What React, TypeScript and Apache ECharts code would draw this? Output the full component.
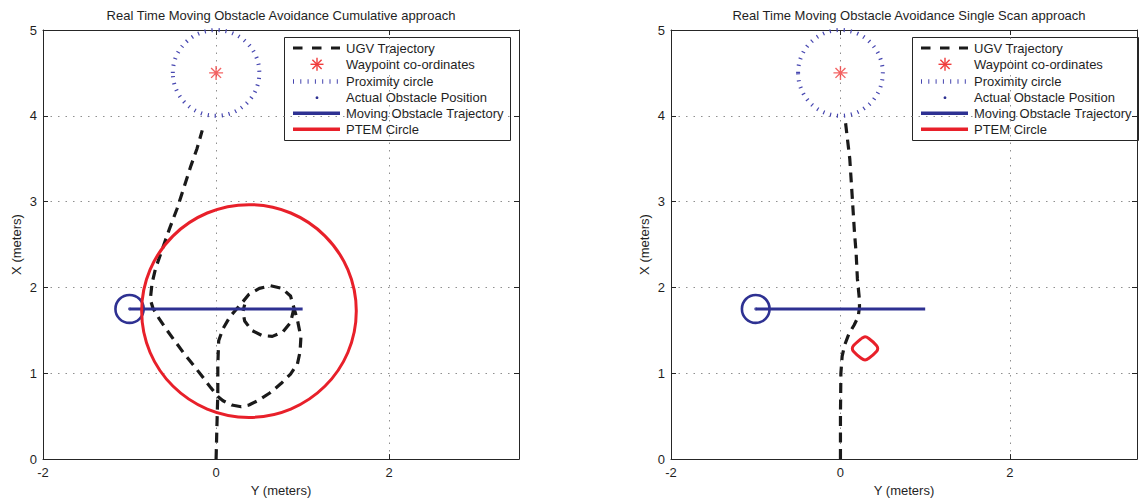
import React, { useEffect, useRef } from "react";
import * as echarts from "echarts";

// ---------- data (Y metres, X metres) ----------
const X_MIN = -2;
const X_MAX = 3.5;
const X_INTERVAL = 2;
const Y_MIN = 0;
const Y_MAX = 5;
const Y_INTERVAL = 1;

const TITLES = [
  "Real Time Moving Obstacle Avoidance Cumulative approach",
  "Real Time Moving Obstacle Avoidance Single Scan approach",
];
const LEGEND_NAMES = [
  "UGV Trajectory",
  "Waypoint co-ordinates",
  "Proximity circle",
  "Actual Obstacle Position",
  "Moving Obstacle Trajectory",
  "PTEM Circle",
];

const WAYPOINT = [0, 4.5];
const PROXIMITY_CIRCLE = [0, 4.5, 0.5]; // cx, cy, r
const OBSTACLE_POSITION = [-1, 1.75];
const OBSTACLE_CIRCLE = [-1, 1.75, 0.163];
const OBSTACLE_TRAJECTORY = [
  [-1, 1.75],
  [1, 1.75],
];

// Cumulative approach
const UGV_CUMULATIVE_MAIN = [
  [0.0, 0.0], [0.01, 0.4], [0.02, 0.77], [0.02, 1.1], [0.03, 1.38],
  [0.08, 1.52], [0.16, 1.66], [0.29, 1.81],
  [0.38, 1.92], [0.5, 1.99], [0.63, 2.02], [0.76, 1.99], [0.86, 1.9], [0.9, 1.76],
  [0.94, 1.62], [0.98, 1.42], [0.97, 1.25], [0.94, 1.11], [0.86, 0.99],
  [0.75, 0.88], [0.62, 0.77], [0.48, 0.68], [0.38, 0.63], [0.29, 0.61],
  [0.18, 0.63], [0.08, 0.68], [0.02, 0.73],
  [-0.06, 0.83], [-0.15, 0.95], [-0.25, 1.08], [-0.37, 1.23], [-0.48, 1.38],
  [-0.58, 1.52], [-0.66, 1.64], [-0.73, 1.76], [-0.76, 1.86], [-0.74, 2.05],
  [-0.7, 2.22], [-0.62, 2.45], [-0.54, 2.68], [-0.45, 2.92], [-0.37, 3.17],
  [-0.29, 3.42], [-0.22, 3.62], [-0.16, 3.83],
];
const UGV_CUMULATIVE_LOOP = [
  [0.9, 1.76], [0.86, 1.59], [0.77, 1.48], [0.65, 1.43], [0.53, 1.44],
  [0.41, 1.5], [0.33, 1.61], [0.31, 1.72], [0.33, 1.8],
];
const PTEM_CUMULATIVE = [0.38, 1.725, 1.24]; // cx, cy, r

// Single scan approach
const UGV_SINGLE = [
  [0.0, 0.0], [0.0, 0.5], [0.005, 1.0], [0.02, 1.2], [0.05, 1.33],
  [0.1, 1.46], [0.16, 1.56], [0.21, 1.66], [0.225, 1.78], [0.22, 1.9],
  [0.2, 2.1], [0.185, 2.4], [0.165, 2.65], [0.14, 3.04], [0.11, 3.5],
  [0.08, 3.75], [0.06, 3.92],
];
const PTEM_SINGLE = [
  [0.245, 1.405], [0.29, 1.425], [0.335, 1.405],
  [0.425, 1.325], [0.44, 1.29], [0.425, 1.255],
  [0.335, 1.175], [0.29, 1.155], [0.245, 1.175],
  [0.155, 1.255], [0.14, 1.29], [0.155, 1.325],
  [0.245, 1.405],
];

// ---------- styles ----------
const FONT = '"Liberation Sans", Arial, Helvetica, sans-serif';
const TEXT = "#1f1f1f";
const AXIS = "#262626";
const BLACK = "#1a1a1a";
const BLUE = "#2e3192";
const PROX_BLUE = "#4646b0";
const RED = "#e8202a";
const STAR_RED = "#f03c3c";
const UGV_DASH = [10, 6.5];
const PROX_DASH = [1.2, 5.8];

const GRID_TOP = 30;
const GRID_W = 476;
const GRID_H = 433;
const GRID_LEFTS = [43, 671];
const LEGEND_LEFTS = [284, 912];

const ASTERISK =
  "path://M0,-1L0,1M-1,0L1,0M-0.71,-0.71L0.71,0.71M-0.71,0.71L0.71,-0.71";

function circleRenderer(color: string, width: number, dash?: number[]) {
  return (params: any, api: any) => {
    const c = api.coord([api.value(0), api.value(1)]);
    const s = api.size([api.value(2), api.value(2)]);
    return {
      type: "ellipse",
      shape: { cx: c[0], cy: c[1], rx: s[0], ry: s[1] },
      style: {
        fill: "none",
        stroke: color,
        lineWidth: width,
        lineDash: dash,
      },
    };
  };
}

function axesFor(g: number) {
  const common = {
    gridIndex: g,
    type: "value" as const,
    axisLine: { show: true, onZero: false, lineStyle: { color: AXIS, width: 1 } },
    axisTick: { show: true, inside: true, length: 5, lineStyle: { color: AXIS } },
  };
  const xBottom = {
    ...common,
    position: "bottom",
    min: X_MIN,
    max: X_MAX,
    interval: X_INTERVAL,
    name: "Y (meters)",
    nameLocation: "middle",
    nameGap: 23,
    nameTextStyle: { fontSize: 13, color: TEXT, fontFamily: FONT },
    axisLabel: {
      margin: 7,
      fontSize: 13,
      color: TEXT,
      fontFamily: FONT,
      formatter: (v: number) => (v === X_MAX ? "" : String(v)),
    },
    splitLine: { show: true, lineStyle: { color: "#8f8f8f", width: 1, type: [1.5, 6] } },
  };
  const xTop = {
    ...common,
    position: "top",
    min: X_MIN,
    max: X_MAX,
    interval: X_INTERVAL,
    axisLabel: { show: false },
    splitLine: { show: false },
  };
  const yLeft = {
    ...common,
    position: "left",
    min: Y_MIN,
    max: Y_MAX,
    interval: Y_INTERVAL,
    name: "X (meters)",
    nameLocation: "middle",
    nameGap: 20,
    nameTextStyle: { fontSize: 13, color: TEXT, fontFamily: FONT },
    axisLabel: { margin: 6, fontSize: 13, color: TEXT, fontFamily: FONT },
    splitLine: { show: true, lineStyle: { color: "#8f8f8f", width: 1, type: [1.5, 6] } },
  };
  const yRight = {
    ...common,
    position: "right",
    min: Y_MIN,
    max: Y_MAX,
    interval: Y_INTERVAL,
    axisLabel: { show: false },
    splitLine: { show: false },
  };
  return { x: [xBottom, xTop], y: [yLeft, yRight] };
}

function seriesFor(g: number, ugv: any[], ptem: "circle" | "poly") {
  const xi = g * 2;
  const yi = g * 2;
  const base = { xAxisIndex: xi, yAxisIndex: yi };
  const list: any[] = [
    {
      ...base,
      type: "line",
      name: LEGEND_NAMES[0],
      data: ugv,
      showSymbol: false,
      symbol: "none",
      connectNulls: false,
      lineStyle: { color: BLACK, width: 3.2, type: UGV_DASH, cap: "butt", join: "round" },
      z: 2,
    },
    {
      ...base,
      type: "scatter",
      name: LEGEND_NAMES[1],
      data: [WAYPOINT],
      symbol: ASTERISK,
      symbolSize: 14,
      itemStyle: { color: "transparent", borderColor: STAR_RED, borderWidth: 1.4 },
      z: 3,
    },
    {
      ...base,
      type: "custom",
      name: LEGEND_NAMES[2],
      data: [PROXIMITY_CIRCLE],
      encode: { x: 0, y: 1 },
      renderItem: circleRenderer(PROX_BLUE, 4, PROX_DASH),
      z: 3,
    },
    {
      ...base,
      type: "scatter",
      name: LEGEND_NAMES[3],
      data: [OBSTACLE_POSITION],
      symbol: "circle",
      symbolSize: 3,
      itemStyle: { color: BLUE },
      z: 3,
    },
    {
      ...base,
      type: "line",
      name: LEGEND_NAMES[4],
      data: OBSTACLE_TRAJECTORY,
      showSymbol: false,
      symbol: "none",
      lineStyle: { color: BLUE, width: 3 },
      z: 4,
    },
    {
      ...base,
      type: "custom",
      name: LEGEND_NAMES[4] + " marker",
      data: [OBSTACLE_CIRCLE],
      encode: { x: 0, y: 1 },
      renderItem: circleRenderer(BLUE, 2.6),
      z: 4,
    },
  ];
  if (ptem === "circle") {
    list.push({
      ...base,
      type: "custom",
      name: LEGEND_NAMES[5],
      data: [PTEM_CUMULATIVE],
      encode: { x: 0, y: 1 },
      renderItem: circleRenderer(RED, 3),
      z: 5,
    });
  } else {
    list.push({
      ...base,
      type: "line",
      name: LEGEND_NAMES[5],
      data: PTEM_SINGLE,
      showSymbol: false,
      symbol: "none",
      smooth: 0.2,
      lineStyle: { color: RED, width: 3, join: "round" },
      z: 5,
    });
  }
  return list;
}

function legendGraphic(left: number) {
  const rowY = [11, 27.3, 44.5, 60.7, 76.3, 92.3];
  const sx0 = 9;
  const sx1 = 56;
  const tx = 62;
  const cx = 33;
  const children: any[] = [
    {
      type: "rect",
      shape: { x: 0.5, y: 0.5, width: 226, height: 103 },
      style: { fill: "#ffffff", stroke: AXIS, lineWidth: 1 },
    },
    {
      type: "line",
      shape: { x1: sx0, y1: rowY[0], x2: sx1, y2: rowY[0] },
      style: { stroke: BLACK, lineWidth: 3, lineDash: [9.5, 9.5] },
    },
  ];
  const a = 6.5;
  const d = a * 0.71;
  [
    [0, -a, 0, a],
    [-a, 0, a, 0],
    [-d, -d, d, d],
    [-d, d, d, -d],
  ].forEach(([x1, y1, x2, y2]) =>
    children.push({
      type: "line",
      shape: { x1: cx + x1, y1: rowY[1] + y1, x2: cx + x2, y2: rowY[1] + y2 },
      style: { stroke: STAR_RED, lineWidth: 1.4 },
    })
  );
  children.push({
    type: "line",
    shape: { x1: sx0, y1: rowY[2], x2: sx1, y2: rowY[2] },
    style: { stroke: PROX_BLUE, lineWidth: 4.5, lineDash: [1, 6.3] },
  });
  children.push({
    type: "circle",
    shape: { cx: cx, cy: rowY[3], r: 1.4 },
    style: { fill: BLUE },
  });
  children.push({
    type: "line",
    shape: { x1: sx0, y1: rowY[4], x2: sx1, y2: rowY[4] },
    style: { stroke: BLUE, lineWidth: 3.5 },
  });
  children.push({
    type: "line",
    shape: { x1: sx0, y1: rowY[5], x2: sx1, y2: rowY[5] },
    style: { stroke: RED, lineWidth: 3.5 },
  });
  LEGEND_NAMES.forEach((name, i) =>
    children.push({
      type: "text",
      x: tx,
      y: rowY[i],
      style: {
        text: name,
        font: `13px ${FONT}`,
        fill: TEXT,
        align: "left",
        verticalAlign: "middle",
      },
    })
  );
  return { type: "group", x: left, y: 37, z: 100, children };
}

export default function App() {
  const ref = useRef<HTMLDivElement>(null);
  useEffect(() => {
    if (!ref.current) return;
    const chart = echarts.init(ref.current, undefined, { renderer: "svg" });
    const a0 = axesFor(0);
    const a1 = axesFor(1);
    const option: any = {
      animation: false,
      backgroundColor: "#ffffff",
      textStyle: { fontFamily: FONT },
      grid: GRID_LEFTS.map((l) => ({
        left: l,
        top: GRID_TOP,
        width: GRID_W,
        height: GRID_H,
        containLabel: false,
      })),
      xAxis: [...a0.x, ...a1.x],
      yAxis: [...a0.y, ...a1.y],
      series: [
        ...seriesFor(0, [...UGV_CUMULATIVE_MAIN, ["-", "-"], ...UGV_CUMULATIVE_LOOP], "circle"),
        ...seriesFor(1, UGV_SINGLE, "poly"),
      ],
      graphic: [
        ...TITLES.map((t, i) => ({
          type: "text",
          x: GRID_LEFTS[i] + GRID_W / 2,
          y: 15,
          z: 100,
          style: {
            text: t,
            font: `13px ${FONT}`,
            fill: TEXT,
            align: "center",
            verticalAlign: "middle",
          },
        })),
        ...LEGEND_LEFTS.map((l) => legendGraphic(l)),
      ],
    };
    chart.setOption(option);
    return () => chart.dispose();
  }, []);
  return (
    <div
      ref={ref}
      style={{ position: "absolute", left: 0, top: 0, width: 1140, height: 502 }}
    />
  );
}
